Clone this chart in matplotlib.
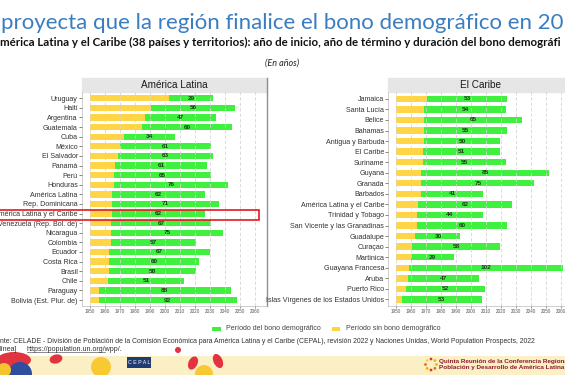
import math
import matplotlib.pyplot as plt
from matplotlib.patches import Rectangle, Ellipse, Circle

W, H = 565, 375

# América Latina: inicio y fin del bono demográfico (años)
al_paises = ["Uruguay", "Haití", "Argentina", "Guatemala", "Cuba", "México",
             "El Salvador", "Panamá", "Perú", "Honduras", "América Latina",
             "Rep. Dominicana", "América Latina y el Caribe",
             "Venezuela (Rep. Bol. de)", "Nicaragua", "Colombia", "Ecuador",
             "Costa Rica", "Brasil", "Chile", "Paraguay", "Bolivia (Est. Plur. de)"]
al_inicio = [2003, 1991, 1987, 1985, 1973, 1970, 1969, 1967, 1966, 1966, 1965,
             1965, 1965, 1964, 1964, 1964, 1963, 1963, 1963, 1962, 1956, 1956]
al_fin = [2032, 2047, 2034, 2045, 2007, 2031, 2032, 2028, 2031, 2042, 2027,
          2036, 2027, 2031, 2039, 2021, 2030, 2023, 2021, 2013, 2044, 2048]
al_duracion = [29, 56, 47, 60, 34, 61, 63, 61, 65, 76, 62, 71, 62, 67, 75, 57,
               67, 60, 58, 51, 88, 92]

# El Caribe
ca_paises = ["Jamaica", "Santa Lucía", "Belice", "Bahamas", "Antigua y Barbuda",
             "El Caribe", "Suriname", "Guyana", "Granada", "Barbados",
             "América Latina y el Caribe", "Trinidad y Tobago",
             "San Vicente y las Granadinas", "Guadalupe", "Curaçao", "Martinica",
             "Guayana Francesa", "Aruba", "Puerto Rico",
             "Islas Vírgenes de los Estados Unidos"]
ca_inicio = [1971, 1969, 1969, 1969, 1969, 1968, 1968, 1967, 1967, 1967, 1965,
             1964, 1964, 1963, 1961, 1960, 1959, 1958, 1957, 1954]
ca_fin = [2024, 2023, 2034, 2024, 2019, 2019, 2023, 2052, 2042, 2008, 2027,
          2008, 2024, 1993, 2019, 1989, 2061, 2005, 2009, 2007]
ca_duracion = [53, 54, 65, 55, 50, 51, 55, 85, 75, 41, 62, 44, 60, 30, 58, 29,
               102, 47, 52, 53]

BASE = 1950
YELLOW = "#FFD545"
GREEN = "#3FF03F"
FONT = "Liberation Sans"


def panel(rect, titulo, paises, inicio, fin, duracion, alto):
    ax = fig.add_axes(rect)
    n = len(paises)
    y = list(range(n))
    ax.barh(y, [s - BASE for s in inicio], left=BASE, height=alto,
            color=YELLOW, linewidth=0)
    ax.barh(y, [f - s for s, f in zip(inicio, fin)], left=inicio, height=alto,
            color=GREEN, linewidth=0)
    for yi, s, f, d in zip(y, inicio, fin, duracion):
        ax.text((s + f) / 2, yi, str(d), ha="center", va="center",
                fontsize=4.6, fontweight="bold", color="#1e3a1e", family=FONT)
    ax.set_ylim(n - 0.4, -0.6)
    ax.set_xlim(1945, 2068)
    ax.set_yticks(y)
    ax.set_yticklabels(paises, family=FONT)
    ax.set_xticks(range(1950, 2061, 10))
    ax.set_xticklabels([str(v) for v in range(1950, 2061, 10)], family=FONT)
    ax.grid(axis="x", color="#D4D4D4", linestyle=(0, (4, 2.5)), linewidth=0.6)
    ax.set_axisbelow(False)
    ax.tick_params(axis="y", length=2, width=0.5, color="#555555",
                   labelsize=5.1, labelcolor="#333333", pad=1)
    ax.tick_params(axis="x", length=1.5, width=0.5, color="#777777",
                   labelsize=3.3, labelcolor="#555555", pad=1)
    ax.spines["top"].set_visible(False)
    ax.spines["right"].set_visible(False)
    for s in ["left", "bottom"]:
        ax.spines[s].set_color("#BBBBBB")
        ax.spines[s].set_linewidth(0.5)
    # strip with facet title
    tira = 14 / (rect[3] * H)
    ax.add_patch(Rectangle((0, 1.002), 1, tira, transform=ax.transAxes,
                           color="#E6E6E6", clip_on=False, zorder=0))
    ax.text(0.5, 1.002 + tira / 2, titulo, transform=ax.transAxes, ha="center",
            va="center", fontsize=7.2, color="#1a1a1a", family=FONT)
    ax.plot([1, 1], [0, 1.002 + tira], transform=ax.transAxes, color="#8F8F8F",
            lw=1.0, clip_on=False)
    return ax


fig = plt.figure(figsize=(W / 100, H / 100), dpi=100)

bg = fig.add_axes([0, 0, 1, 1], zorder=-1)
bg.set_xlim(0, W)
bg.set_ylim(H, 0)
bg.axis("off")

# titles
t1 = bg.text(1, 29, "proyecta que la región finalice el bono demográfico en 20",
             fontsize=15, color="#3A7DC0", family="Lato", va="baseline")
t2 = bg.text(0, 45.5, "mérica Latina y el Caribe (38 países y territorios): año de inicio, "
             "año de término y duración del bono demográfi",
             fontsize=7, fontweight="bold", color="#111111", family="Lato",
             va="baseline")
bg.text(282, 63, "(En años)", fontsize=6.5, style="italic", color="#222222",
        family="Lato", ha="center", va="center")

py0, py1 = 92.5, 305.8
panel([82 / W, 1 - py1 / H, 185 / W, (py1 - py0) / H], "América Latina",
      al_paises, al_inicio, al_fin, al_duracion, 0.66)
panel([388.3 / W, 1 - py1 / H, 185 / W, (py1 - py0) / H], "El Caribe",
      ca_paises, ca_inicio, ca_fin, ca_duracion, 0.6)

# legend
bg.add_patch(Rectangle((212, 326.7), 8.5, 4.6, color=GREEN, lw=0))
bg.text(226, 329, "Período del bono demográfico", fontsize=5.1, color="#444444",
        family=FONT, va="center")
bg.add_patch(Rectangle((331.5, 326.7), 8.5, 4.6, color=YELLOW, lw=0))
bg.text(346, 329, "Período sin bono demográfico", fontsize=5.1, color="#444444",
        family=FONT, va="center")

# source
t3 = bg.text(0, 341.5, "nte: CELADE - División de Población de la Comisión Económica para "
             "América Latina y el Caribe (CEPAL), revisión 2022 y Naciones Unidas, "
             "World Population Prospects, 2022",
             fontsize=5.1, color="#333333", family=FONT, va="center")
bg.text(0, 349.3, "línea]", fontsize=5.1, color="#333333", family=FONT, va="center")
bg.text(26.5, 349.3, "https://population.un.org/wpp/.", fontsize=5.1,
        color="#333333", family=FONT, va="center")
bg.plot([26.5, 105], [352.4, 352.4], color="#333333", lw=0.4)

# footer band
bg.add_patch(Rectangle((0, 356), W, 19, color="#FBEFC6", lw=0))
bg.add_patch(Ellipse((14, 360), 34, 16, color="#E2343F", lw=0))
bg.add_patch(Circle((20, 374), 12, color="#2F4E9E", lw=0))
bg.add_patch(Circle((4, 370), 7, color="#F4C430", lw=0))
bg.add_patch(Ellipse((56, 359), 13, 9, angle=-15, color="#E2343F", lw=0))
bg.add_patch(Circle((101, 367), 10, color="#F9C933", lw=0))
bg.add_patch(Rectangle((127, 357), 24, 11, color="#1F3C74", lw=0))
bg.text(139, 362.5, "C E P A L", fontsize=3.8, color="white", family=FONT,
        ha="center", va="center")
bg.add_patch(Circle((178, 350), 3, color="#E2343F", lw=0))
bg.add_patch(Ellipse((193, 363), 9, 14, angle=25, color="#E2343F", lw=0))
bg.add_patch(Circle((204, 374), 9, color="#F9C933", lw=0))
bg.add_patch(Ellipse((218, 361), 9, 15, angle=-25, color="#E2343F", lw=0))
for i, c in enumerate(["#F4B400", "#E86A1C", "#D93A2B", "#F4B400", "#E86A1C",
                       "#F9D34A", "#D93A2B", "#F4B400"]):
    a = i * math.pi / 4
    bg.add_patch(Circle((431 + 5.5 * math.cos(a), 364.5 + 5.5 * math.sin(a)), 1.4,
                        color=c, lw=0))
t4 = bg.text(439, 361.5, "Quinta Reunión de la Conferencia Regional", fontsize=4.4,
             fontweight="bold", color="#8C1C2B", family=FONT, va="center")
t5 = bg.text(439, 367.5, "Población y Desarrollo de América Latina", fontsize=4.4,
             fontweight="bold", color="#8C1C2B", family=FONT, va="center")

# highlight box (overlay)
ov = fig.add_axes([0, 0, 1, 1], zorder=10)
ov.set_xlim(0, W)
ov.set_ylim(H, 0)
ov.axis("off")
ov.add_patch(Rectangle((-2, 210), 261, 9.5, fill=False, edgecolor="#E3191C", lw=1.2))

# fit text widths to the reference
fig.canvas.draw()
for t, ancho in [(t1, 562), (t2, 566), (t3, 537), (t5, 125)]:
    w = t.get_window_extent().width
    t.set_fontsize(t.get_fontsize() * ancho / w)
t4.set_fontsize(t5.get_fontsize())

fig.savefig("out.png", dpi=100)
